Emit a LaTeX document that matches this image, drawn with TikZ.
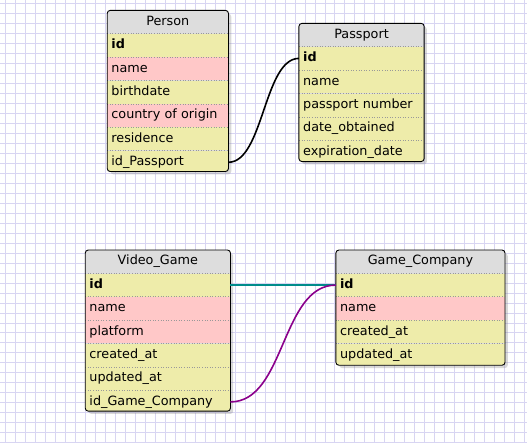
\documentclass[tikz,border=0pt]{standalone}
\usepackage{fontspec}
\setmainfont{DejaVu Sans}
\usepackage{tikz}
\usetikzlibrary{positioning, shadows}

\definecolor{hdrgray}{HTML}{DDDDDD}
\definecolor{fldyellow}{HTML}{EEECAA}
\definecolor{fldpink}{HTML}{FFC8C8}
\definecolor{gridlav}{HTML}{D8D5F2}
\definecolor{relteal}{HTML}{008B8B}
\definecolor{relpurple}{HTML}{8B008B}

\begin{document}
\begin{tikzpicture}[
    x=1pt, y=-1pt,
    tbl/.style={anchor=north west, fill=hdrgray, rounded corners=3pt, inner sep=0pt,
                drop shadow={shadow xshift=3pt, shadow yshift=-3pt, opacity=0.3}},
    hdr/.style={align=center, minimum height=23pt, inner xsep=4pt, inner ysep=0pt,
                text height=9.5pt, text depth=3pt, font=\fontsize{12.8}{15}\selectfont},
    fld/.style={hdr, align=left},
    frameline/.style={draw=black, rounded corners=3pt, line width=0.9pt},
    sepline/.style={draw=gray!80, dotted, line width=0.6pt},
    rel/.style={line width=1.6pt},
    gridline/.style={draw=gridlav, line width=0.8pt},
]
% ---- paper with grid ----
\fill[white] (0,0) rectangle (527,443);
\foreach \gx in {5,15,...,525} \draw[gridline] (\gx,0) -- (\gx,443);
\foreach \gy in {3,13,...,443} \draw[gridline] (0,\gy) -- (527,\gy);
\useasboundingbox (0,0) rectangle (527,443);

% ---- Person ----
\node[tbl, minimum width=121pt, minimum height=161pt] (person) at (107,10) {};
\begin{scope}
  \clip[rounded corners=3pt] (person.north west) rectangle (person.south east);
  \node[hdr, text width=113pt, below=0pt of person.north] (person-0) {Person};
  \foreach \f/\c [count=\i, remember=\i as \j (initially 0)] in
      {\textbf{id}/fldyellow, name/fldpink, birthdate/fldyellow,
       country of origin/fldpink, residence/fldyellow, id\_Passport/fldyellow}
  {
    \node[fld, fill=\c, text width=113pt, below=0pt of person-\j] (person-\i) {\f};
    \draw[sepline] (person-\i.north west) -- (person-\i.north east);
  }
\end{scope}
\draw[frameline] (person.north west) rectangle (person.south east);

% ---- Passport ----
\node[tbl, minimum width=125pt, minimum height=138pt] (passport) at (299,23) {};
\begin{scope}
  \clip[rounded corners=3pt] (passport.north west) rectangle (passport.south east);
  \node[hdr, text width=117pt, below=0pt of passport.north] (passport-0) {Passport};
  \foreach \f/\c [count=\i, remember=\i as \j (initially 0)] in
      {\textbf{id}/fldyellow, name/fldyellow, passport number/fldyellow,
       date\_obtained/fldyellow, expiration\_date/fldyellow}
  {
    \node[fld, fill=\c, text width=117pt, below=0pt of passport-\j] (passport-\i) {\f};
    \draw[sepline] (passport-\i.north west) -- (passport-\i.north east);
  }
\end{scope}
\draw[frameline] (passport.north west) rectangle (passport.south east);

% ---- Video_Game ----
\node[tbl, minimum width=145pt, minimum height=161pt] (game) at (85,250) {};
\begin{scope}
  \clip[rounded corners=3pt] (game.north west) rectangle (game.south east);
  \node[hdr, text width=137pt, below=0pt of game.north] (game-0) {Video\_Game};
  \foreach \f/\c [count=\i, remember=\i as \j (initially 0)] in
      {\textbf{id}/fldyellow, name/fldpink, platform/fldpink,
       created\_at/fldyellow, updated\_at/fldyellow, id\_Game\_Company/fldyellow}
  {
    \node[fld, fill=\c, text width=137pt, below=0pt of game-\j] (game-\i) {\f};
    \draw[sepline] (game-\i.north west) -- (game-\i.north east);
  }
\end{scope}
\draw[frameline] (game.north west) rectangle (game.south east);

% ---- Game_Company ----
\node[tbl, minimum width=169pt, minimum height=115pt] (company) at (336,250) {};
\begin{scope}
  \clip[rounded corners=3pt] (company.north west) rectangle (company.south east);
  \node[hdr, text width=161pt, below=0pt of company.north] (company-0) {Game\_Company};
  \foreach \f/\c [count=\i, remember=\i as \j (initially 0)] in
      {\textbf{id}/fldyellow, name/fldpink, created\_at/fldyellow, updated\_at/fldyellow}
  {
    \node[fld, fill=\c, text width=161pt, below=0pt of company-\j] (company-\i) {\f};
    \draw[sepline] (company-\i.north west) -- (company-\i.north east);
  }
\end{scope}
\draw[frameline] (company.north west) rectangle (company.south east);

% ---- relations ----
\draw[rel, black] (person-6.east) .. controls +(35,0) and +(-35,0) .. (passport-1.west);
\draw[rel, relteal] (game-1.east) -- (company-1.west);
\draw[rel, relpurple] (game-6.east) .. controls +(55,0) and +(-55,0) .. (company-1.west);
\end{tikzpicture}
\end{document}
